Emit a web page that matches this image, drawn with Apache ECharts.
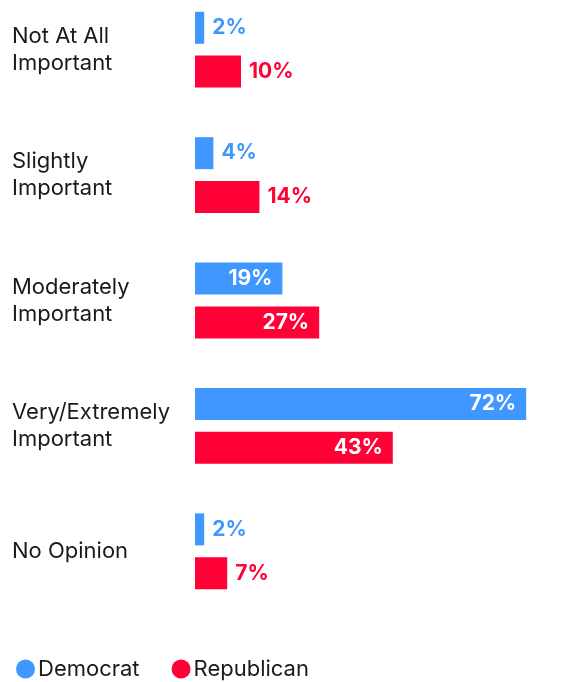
<!DOCTYPE html>
<html>
<head>
<meta charset="utf-8">
<script src="https://cdn.jsdelivr.net/npm/echarts@6/dist/echarts.min.js"></script>
<style>
  html, body { margin: 0; padding: 0; background: #fff; }
  #chart { width: 569px; height: 682px; }
</style>
</head>
<body>
<div id="chart"></div>
<script>
// Importance ratings by party, share of respondents (%)
const categories = [
  'Not At All\nImportant',
  'Slightly\nImportant',
  'Moderately\nImportant',
  'Very/Extremely\nImportant',
  'No Opinion'
];
const democrat = [2, 4, 19, 72, 2];
const republican = [10, 14, 27, 43, 7];

const BLUE = '#4097FF';
const RED = '#FF0037';
const FONT = 'Inter, "Noto Sans", sans-serif';

// Short bars carry their label outside in the bar colour; long bars carry it inside in white.
function withLabels(values, color) {
  return values.map(v => ({
    value: v,
    label: v >= 19
      ? { position: 'insideRight', color: '#fff', distance: 10 }
      : { position: 'right', color: color, distance: 8 }
  }));
}

const chart = echarts.init(document.getElementById('chart'), null, { renderer: 'canvas' });
chart.setOption({
  animation: false,
  backgroundColor: '#fff',
  grid: { left: 195, right: 6, top: -13, height: 627, outerBoundsMode: 'none', containLabel: false },
  xAxis: {
    type: 'value',
    min: 0,
    max: 80,
    show: false
  },
  yAxis: {
    type: 'category',
    inverse: true,
    data: categories,
    axisLine: { show: false },
    axisTick: { show: false },
    splitLine: { show: false },
    axisLabel: {
      align: 'left',
      margin: 183,
      fontFamily: FONT,
      fontSize: 22,
      lineHeight: 27,
      color: '#1a1a1a'
    }
  },
  legend: {
    left: 11,
    top: 653,
    icon: 'circle',
    itemWidth: 19,
    itemHeight: 19,
    itemGap: 32,
    textStyle: { fontFamily: FONT, fontSize: 22, color: '#1a1a1a', padding: [0, 0, 0, -2] },
    data: ['Democrat', 'Republican']
  },
  series: [
    {
      name: 'Democrat',
      type: 'bar',
      data: withLabels(democrat, BLUE),
      barWidth: 32,
      barGap: '37%',
      itemStyle: { color: BLUE },
      label: {
        show: true,
        formatter: '{c}%',
        fontFamily: FONT,
        fontWeight: 'bold',
        fontSize: 21
      }
    },
    {
      name: 'Republican',
      type: 'bar',
      data: withLabels(republican, RED),
      barWidth: 32,
      barGap: '37%',
      itemStyle: { color: RED },
      label: {
        show: true,
        formatter: '{c}%',
        fontFamily: FONT,
        fontWeight: 'bold',
        fontSize: 21
      }
    }
  ]
});
</script>
</body>
</html>
